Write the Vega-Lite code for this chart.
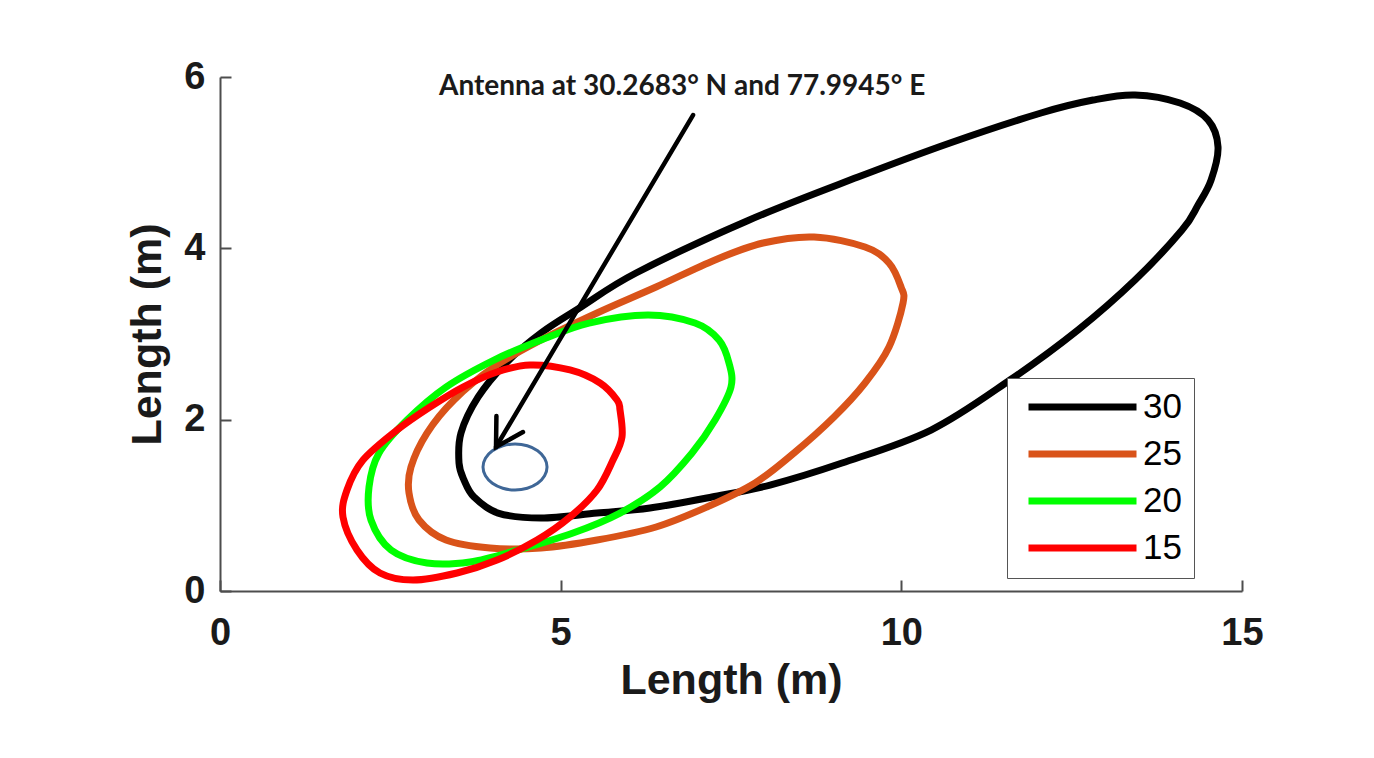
{
  "$schema": "https://vega.github.io/schema/vega-lite/v6.json",
  "width": 1022,
  "height": 514,
  "autosize": {"type": "none"},
  "padding": {"left": 220, "top": 77, "right": 132, "bottom": 167},
  "background": "white",
  "config": {
    "view": {"stroke": null},
    "axis": {
      "grid": false,
      "tickSize": -11,
      "tickWidth": 2,
      "tickColor": "#4d4d4d",
      "domainColor": "#4d4d4d",
      "domainWidth": 2,
      "format": "d",
      "labelFont": "Liberation Sans",
      "labelFontWeight": "bold",
      "labelFontSize": 38,
      "labelColor": "#1a1a1a",
      "labelFlush": false,
      "labelOverlap": false,
      "titleFont": "Liberation Sans",
      "titleFontWeight": "bold",
      "titleFontSize": 43,
      "titleColor": "#1a1a1a"
    }
  },
  "layer": [
    {
      "data": {"values": [
        {"s":"30","i":0,"x":3.508,"y":1.494},{"s":"30","i":1,"x":3.537,"y":1.844},{"s":"30","i":2,"x":3.787,"y":2.262},{"s":"30","i":3,"x":4.198,"y":2.662},{"s":"30","i":4,"x":4.711,"y":3.012},{"s":"30","i":5,"x":5.299,"y":3.315},{"s":"30","i":6,"x":6.106,"y":3.712},{"s":"30","i":7,"x":7.735,"y":4.320},{"s":"30","i":8,"x":9.364,"y":4.832},{"s":"30","i":9,"x":10.714,"y":5.230},{"s":"30","i":10,"x":12.050,"y":5.580},{"s":"30","i":11,"x":12.814,"y":5.731},{"s":"30","i":12,"x":13.430,"y":5.790},{"s":"30","i":13,"x":14.091,"y":5.696},{"s":"30","i":14,"x":14.502,"y":5.498},{"s":"30","i":15,"x":14.648,"y":5.183},{"s":"30","i":16,"x":14.546,"y":4.797},{"s":"30","i":17,"x":14.355,"y":4.506},{"s":"30","i":18,"x":14.120,"y":4.214},{"s":"30","i":19,"x":13.430,"y":3.630},{"s":"30","i":20,"x":12.593,"y":3.047},{"s":"30","i":21,"x":11.595,"y":2.463},{"s":"30","i":22,"x":10.436,"y":1.879},{"s":"30","i":23,"x":9.130,"y":1.494},{"s":"30","i":24,"x":8.073,"y":1.237},{"s":"30","i":25,"x":7.221,"y":1.097},{"s":"30","i":26,"x":6.311,"y":0.969},{"s":"30","i":27,"x":5.534,"y":0.910},{"s":"30","i":28,"x":4.712,"y":0.852},{"s":"30","i":29,"x":4.081,"y":0.910},{"s":"30","i":30,"x":3.728,"y":1.097},{"s":"30","i":31,"x":3.581,"y":1.296},
        {"s":"25","i":0,"x":8.719,"y":4.132},{"s":"25","i":1,"x":9.467,"y":4.015},{"s":"25","i":2,"x":9.819,"y":3.829},{"s":"25","i":3,"x":9.996,"y":3.548},{"s":"25","i":4,"x":10.025,"y":3.362},{"s":"25","i":5,"x":9.819,"y":2.848},{"s":"25","i":6,"x":9.467,"y":2.428},{"s":"25","i":7,"x":9.012,"y":2.031},{"s":"25","i":8,"x":8.425,"y":1.611},{"s":"25","i":9,"x":7.853,"y":1.261},{"s":"25","i":10,"x":7.148,"y":0.981},{"s":"25","i":11,"x":6.400,"y":0.747},{"s":"25","i":12,"x":5.534,"y":0.595},{"s":"25","i":13,"x":4.712,"y":0.502},{"s":"25","i":14,"x":3.963,"y":0.502},{"s":"25","i":15,"x":3.317,"y":0.595},{"s":"25","i":16,"x":2.921,"y":0.829},{"s":"25","i":17,"x":2.774,"y":1.144},{"s":"25","i":18,"x":2.803,"y":1.447},{"s":"25","i":19,"x":3.038,"y":1.844},{"s":"25","i":20,"x":3.435,"y":2.230},{"s":"25","i":21,"x":4.022,"y":2.615},{"s":"25","i":22,"x":4.712,"y":2.930},{"s":"25","i":23,"x":5.534,"y":3.245},{"s":"25","i":24,"x":6.400,"y":3.548},{"s":"25","i":25,"x":7.266,"y":3.864},{"s":"25","i":26,"x":7.970,"y":4.062},
        {"s":"20","i":0,"x":6.282,"y":3.222},{"s":"20","i":1,"x":6.972,"y":3.128},{"s":"20","i":2,"x":7.324,"y":2.930},{"s":"20","i":3,"x":7.471,"y":2.661},{"s":"20","i":4,"x":7.500,"y":2.381},{"s":"20","i":5,"x":7.266,"y":1.996},{"s":"20","i":6,"x":6.928,"y":1.611},{"s":"20","i":7,"x":6.458,"y":1.214},{"s":"20","i":8,"x":5.871,"y":0.910},{"s":"20","i":9,"x":5.181,"y":0.677},{"s":"20","i":10,"x":4.374,"y":0.479},{"s":"20","i":11,"x":3.669,"y":0.339},{"s":"20","i":12,"x":3.038,"y":0.327},{"s":"20","i":13,"x":2.510,"y":0.479},{"s":"20","i":14,"x":2.216,"y":0.829},{"s":"20","i":15,"x":2.187,"y":1.214},{"s":"20","i":16,"x":2.334,"y":1.611},{"s":"20","i":17,"x":2.745,"y":1.996},{"s":"20","i":18,"x":3.317,"y":2.381},{"s":"20","i":19,"x":4.022,"y":2.696},{"s":"20","i":20,"x":4.712,"y":2.930},{"s":"20","i":21,"x":5.416,"y":3.128},
        {"s":"15","i":0,"x":4.550,"y":2.638},{"s":"15","i":1,"x":5.137,"y":2.580},{"s":"15","i":2,"x":5.578,"y":2.428},{"s":"15","i":3,"x":5.827,"y":2.230},{"s":"15","i":4,"x":5.871,"y":2.113},{"s":"15","i":5,"x":5.900,"y":1.798},{"s":"15","i":6,"x":5.768,"y":1.529},{"s":"15","i":7,"x":5.534,"y":1.179},{"s":"15","i":8,"x":5.137,"y":0.864},{"s":"15","i":9,"x":4.653,"y":0.595},{"s":"15","i":10,"x":4.066,"y":0.362},{"s":"15","i":11,"x":3.479,"y":0.210},{"s":"15","i":12,"x":2.833,"y":0.128},{"s":"15","i":13,"x":2.348,"y":0.210},{"s":"15","i":14,"x":2.011,"y":0.479},{"s":"15","i":15,"x":1.805,"y":0.864},{"s":"15","i":16,"x":1.864,"y":1.179},{"s":"15","i":17,"x":2.099,"y":1.529},{"s":"15","i":18,"x":2.598,"y":1.879},{"s":"15","i":19,"x":3.082,"y":2.148},{"s":"15","i":20,"x":3.567,"y":2.381},{"s":"15","i":21,"x":4.066,"y":2.556}
      ]},
      "mark": {"type": "line", "strokeWidth": 7, "interpolate": "cardinal-closed", "strokeJoin": "round", "clip": false},
      "encoding": {
        "x": {"field": "x", "type": "quantitative", "scale": {"domain": [0, 15], "nice": false, "zero": false},
              "axis": {"values": [0, 5, 10, 15], "title": "Length (m)", "labelPadding": 34, "titlePadding": 7}},
        "y": {"field": "y", "type": "quantitative", "scale": {"domain": [0, 6], "nice": false, "zero": false},
              "axis": {"values": [0, 2, 4, 6], "title": "Length (m)", "labelPadding": 26, "titlePadding": 14}},
        "color": {"field": "s", "type": "nominal",
                  "scale": {"domain": ["30", "25", "20", "15"], "range": ["#000000", "#d95319", "#00ff00", "#ff0000"]},
                  "legend": {"title": null, "orient": "none", "legendX": 787, "legendY": 301, "direction": "vertical",
                             "symbolType": "stroke", "symbolSize": 11664, "symbolStrokeWidth": 7,
                             "clipHeight": 34, "rowPadding": 12, "padding": 12, "symbolOffset": 6, "labelOffset": 3,
                             "labelFont": "Liberation Sans", "labelFontSize": 35, "labelColor": "#000000",
                             "strokeColor": "#555555", "fillColor": "#ffffff"}},
        "order": {"field": "i", "type": "quantitative"}
      }
    },
    {
      "data": {"values": [
        {"i":0,"x":4.800,"y":1.447},{"i":1,"x":4.764,"y":1.550},{"i":2,"x":4.662,"y":1.637},{"i":3,"x":4.510,"y":1.695},{"i":4,"x":4.330,"y":1.715},{"i":5,"x":4.150,"y":1.695},{"i":6,"x":3.998,"y":1.637},{"i":7,"x":3.896,"y":1.550},{"i":8,"x":3.860,"y":1.447},{"i":9,"x":3.896,"y":1.344},{"i":10,"x":3.998,"y":1.257},{"i":11,"x":4.150,"y":1.199},{"i":12,"x":4.330,"y":1.179},{"i":13,"x":4.510,"y":1.199},{"i":14,"x":4.662,"y":1.257},{"i":15,"x":4.764,"y":1.344}
      ]},
      "mark": {"type": "line", "strokeWidth": 3, "color": "#3f6797", "interpolate": "cardinal-closed"},
      "encoding": {
        "x": {"field": "x", "type": "quantitative"},
        "y": {"field": "y", "type": "quantitative"},
        "order": {"field": "i", "type": "quantitative"}
      }
    },
    {
      "data": {"values": [
        {"p":"shaft","i":0,"x":6.943,"y":5.556},{"p":"shaft","i":1,"x":4.051,"y":1.681},
        {"p":"head","i":0,"x":4.057,"y":2.043},{"p":"head","i":1,"x":4.051,"y":1.681},{"p":"head","i":2,"x":4.447,"y":1.856}
      ]},
      "mark": {"type": "line", "strokeWidth": 4.5, "color": "#000000", "strokeCap": "round", "strokeJoin": "miter"},
      "encoding": {
        "x": {"field": "x", "type": "quantitative"},
        "y": {"field": "y", "type": "quantitative"},
        "detail": {"field": "p"},
        "order": {"field": "i", "type": "quantitative"}
      }
    },
    {
      "data": {"values": [{"x": 3.214, "y": 5.79, "label": "Antenna at 30.2683° N and 77.9945° E"}]},
      "mark": {"type": "text", "align": "left", "baseline": "alphabetic", "font": "Lato", "fontWeight": "bold", "fontSize": 28, "color": "#1a1a1a"},
      "encoding": {
        "x": {"field": "x", "type": "quantitative"},
        "y": {"field": "y", "type": "quantitative"},
        "text": {"field": "label"}
      }
    }
  ]
}
